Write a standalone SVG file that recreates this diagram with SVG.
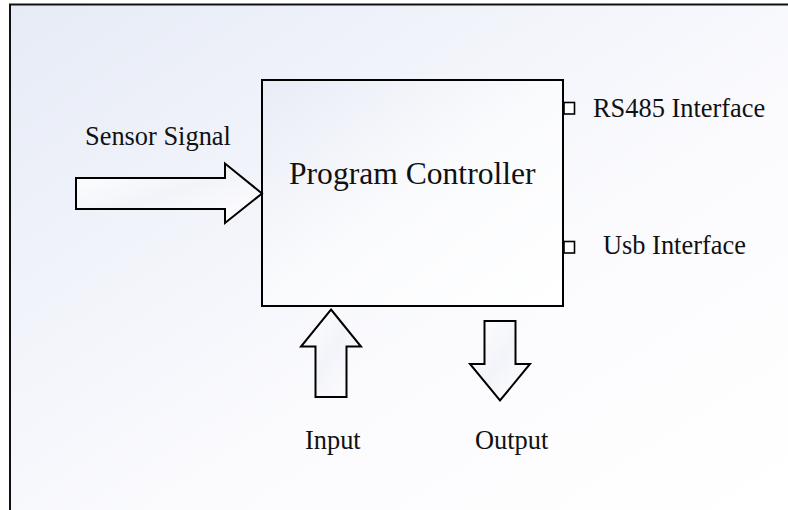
<svg xmlns="http://www.w3.org/2000/svg" width="788" height="510" viewBox="0 0 788 510">
  <defs>
    <linearGradient id="bg" x1="0" y1="0" x2="1" y2="1">
      <stop offset="0" stop-color="#e6ebf6"/>
      <stop offset="0.6" stop-color="#fbfbfe"/>
      <stop offset="1" stop-color="#ffffff"/>
    </linearGradient>
    <linearGradient id="box" x1="0" y1="0" x2="1" y2="1">
      <stop offset="0" stop-color="#e8ecf6"/>
      <stop offset="0.5" stop-color="#fafbfd"/>
      <stop offset="1" stop-color="#ffffff"/>
    </linearGradient>
    <linearGradient id="arr" x1="0" y1="0" x2="1" y2="1">
      <stop offset="0" stop-color="#ffffff"/>
      <stop offset="0.5" stop-color="#f3f4fa"/>
      <stop offset="1" stop-color="#ffffff"/>
    </linearGradient>
  </defs>
  <style>
    .bg { fill: url(#bg); stroke: none; }
    .frame { fill: none; stroke: #111; stroke-width: 2; }
    .box { fill: url(#box); stroke: #000; stroke-width: 2; }
    .arrow { fill: url(#arr); stroke: #000; stroke-width: 2; stroke-linejoin: miter; }
    .port { fill: #ffffff; stroke: #000; stroke-width: 1.6; }
    .t { font-family: "Liberation Serif", "Times New Roman", serif; fill: #111; font-size: 26.4px; }
    .big { font-size: 31.6px; }
  </style>
  <rect class="bg" x="10" y="4.5" width="778" height="505.5"/>
  <path class="frame" d="M10,510 L10,4.5 L788,4.5"/>

  <g id="controller">
    <rect class="box" x="262" y="80" width="301" height="226"/>
    <text class="t big" x="289" y="184">Program Controller</text>
  </g>

  <g id="rs485">
    <rect class="port" x="564" y="102.5" width="10.5" height="11.5"/>
    <text class="t" x="593" y="117">RS485 Interface</text>
  </g>

  <g id="usb">
    <rect class="port" x="564" y="241.5" width="10.5" height="11.5"/>
    <text class="t" x="603" y="254">Usb Interface</text>
  </g>

  <g id="connectors">
    <polygon id="sensor-arrow" class="arrow" points="76,178 225,178 225,163.5 262,193.5 225,223 225,209 76,209"/>
    <polygon id="input-arrow" class="arrow" points="331,309.5 361,346.5 346.5,346.5 346.5,397 315.5,397 315.5,346.5 301,346.5"/>
    <polygon id="output-arrow" class="arrow" points="484.5,321 515.5,321 515.5,364 530,364 500,400.5 470,364 484.5,364"/>
  </g>

  <g id="sensor-label">
    <text class="t" x="85" y="145">Sensor Signal</text>
  </g>
  <g id="input-label">
    <text class="t" x="305" y="449">Input</text>
  </g>
  <g id="output-label">
    <text class="t" x="475" y="449">Output</text>
  </g>
</svg>
